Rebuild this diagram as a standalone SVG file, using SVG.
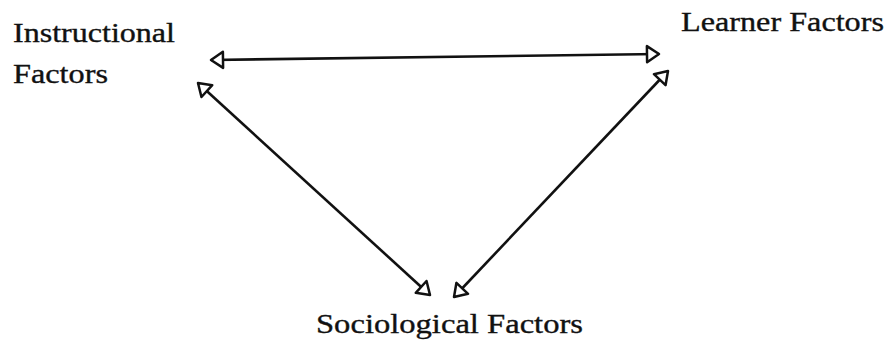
<svg xmlns="http://www.w3.org/2000/svg" width="894" height="345" viewBox="0 0 894 345">
<style>
  .lbl { font-family: "Liberation Serif", "Times New Roman", serif; font-size: 27px; fill: #111; stroke: #111; stroke-width: 0.35; }
  .conn { stroke: #111; stroke-width: 2.6; fill: none; marker-start: url(#head); marker-end: url(#head); }
</style>
<defs>
  <marker id="head" markerUnits="userSpaceOnUse" markerWidth="22" markerHeight="22" viewBox="-16 -11 18 22" refX="0" refY="0" orient="auto-start-reverse">
    <path d="M0,0 L-12,-8 L-12,8 Z" fill="#fff" stroke="#111" stroke-width="2.5" stroke-linejoin="round"/>
  </marker>
</defs>
<rect width="894" height="345" fill="#fff"/>
<g id="connectors">
  <path class="conn" d="M211,60 L659,54"/>
  <path class="conn" d="M198,83 L430,295"/>
  <path class="conn" d="M668,71 L454,297"/>
</g>
<g id="instructional">
  <text class="lbl" x="13" y="42" textLength="162" lengthAdjust="spacingAndGlyphs">Instructional</text>
  <text class="lbl" x="13" y="83" textLength="95" lengthAdjust="spacingAndGlyphs">Factors</text>
</g>
<g id="learner">
  <text class="lbl" x="681" y="31" textLength="203" lengthAdjust="spacingAndGlyphs">Learner Factors</text>
</g>
<g id="sociological">
  <text class="lbl" x="316" y="333" textLength="267" lengthAdjust="spacingAndGlyphs">Sociological Factors</text>
</g>
</svg>
